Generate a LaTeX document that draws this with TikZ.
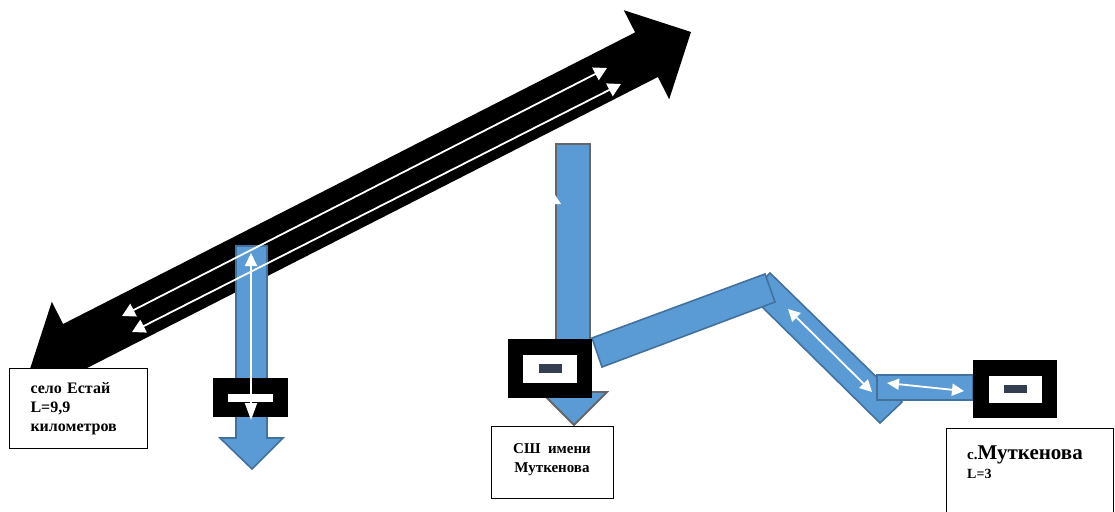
\documentclass[tikz,border=0pt]{standalone}
\usepackage{fontspec}
\setmainfont{Liberation Serif}
\usepackage{tikz}
\usetikzlibrary{arrows.meta,positioning}
\definecolor{roadblue}{HTML}{5B9BD5}
\definecolor{roadedge}{HTML}{41719C}
\definecolor{shaftgray}{HTML}{666666}
\definecolor{doorslate}{HTML}{333F50}
\tikzset{
  roadshape/.style={
    fill=roadblue,
    draw=roadedge,
    line width=1.6pt,
    line join=miter
  },
  labelbox/.style={
    draw=black,
    line width=1pt,
    fill=white,
    font=\bfseries,
    inner sep=0pt
  },
  blockbox/.style={fill=black, inner sep=0pt},
  windowbox/.style={fill=white, inner sep=0pt},
  doorbar/.style={fill=doorslate, inner sep=0pt, minimum width=23pt, minimum height=9pt},
  lanearrow/.style={
    draw=white,
    line width=1.8pt,
    {Triangle[length=13pt,width=14pt]}-{Triangle[length=13pt,width=14pt]}
  }
}
\begin{document}
\begin{tikzpicture}[x=1pt,y=-1pt]
  \clip (0,0) rectangle (1115,511);
  \fill[white] (0,0) rectangle (1115,511);

  % main road to Estay
  \coordinate (esttip) at (30,369);
  \coordinate (fartip) at (691,32);
  \fill[black] (esttip) -- (51.8,301.8) -- (63.1,324.0) -- (635.1,32.4) -- (623.8,10.2)
    -- (fartip) -- (669.2,99.2) -- (657.9,77.0) -- (85.9,368.6) -- (97.2,390.8) -- cycle;

  % side road down to the left building
  \draw[roadshape] (236,246) -- (267,246) -- (267,438) -- (283,438) -- (252,469)
    -- (220,438) -- (236,438) -- cycle;

  % lanes
  \coordinate (laneAw) at (122,316);
  \coordinate (laneAe) at (607,68);
  \coordinate (laneBw) at (132,332);
  \coordinate (laneBe) at (621,84);
  \draw[lanearrow] (laneAw) -- (laneAe);
  \draw[lanearrow] (laneBw) -- (laneBe);

  \node[blockbox, minimum width=75pt, minimum height=39pt] (leftblock) at (250.5,397.5) {};
  \node[windowbox, minimum width=45pt, minimum height=8pt] (leftwin) at (leftblock) {};
  \coordinate (sidetop) at (251,253);
  \coordinate (sidebot) at (251,420);
  \draw[draw=white, line width=1.8pt, {Triangle[length=13pt,width=12pt]}-{Triangle[length=17pt,width=12pt]}] (sidetop) -- (sidebot);

  % road to the school
  \draw[fill=roadblue, draw=shaftgray, line width=1.8pt, line join=miter]
    (556,144) -- (590,144) -- (590,392) -- (607,392) -- (574,425) -- (541,392) -- (556,392) -- cycle;
  \fill[white] (553,192) -- (561,204) -- (553,204) -- cycle;

  % road to Mutkenova
  \draw[roadshape] (770,273) -- (902,402) -- (880,423) -- (749,294) -- cycle;
  \draw[roadshape] (592,338) -- (765,274) -- (775,302) -- (602,367) -- cycle;
  \draw[roadshape] (877,375) rectangle (973,400);
  \coordinate (bendN) at (788,309);
  \coordinate (bendS) at (872,392);
  \draw[draw=white, line width=1.8pt, {Triangle[length=12pt,width=12pt]}-{Triangle[length=12pt,width=12pt]}] (bendN) -- (bendS);
  \coordinate (endW) at (887,383);
  \coordinate (endE) at (964,391);
  \draw[draw=white, line width=1.8pt, {Triangle[length=12pt,width=11pt]}-{Triangle[length=12pt,width=12pt]}] (endW) -- (endE);

  % buildings
  \node[blockbox, minimum width=84pt, minimum height=59pt] (midblock) at (550,368.5) {};
  \node[windowbox, minimum width=54pt, minimum height=28pt] (midwin) at (midblock) {};
  \node[doorbar] (middoor) at (midblock) {};
  \node[blockbox, minimum width=84pt, minimum height=58pt] (rightblock) at (1015,389) {};
  \node[windowbox, minimum width=53pt, minimum height=27pt] (rightwin) at (rightblock) {};
  \node[doorbar, minimum height=8pt] (rightdoor) at (rightblock) {};

  % labels
  \node[labelbox, minimum width=138pt, minimum height=80pt, anchor=north west,
    align=left, text width=96pt, font=\bfseries\fontsize{16pt}{19pt}\selectfont]
    (estay) at (9,368) {село Естай\\L=9,9\\километров};
  \node[labelbox, minimum width=122pt, minimum height=72pt, align=center,
    font=\bfseries\fontsize{15pt}{19pt}\selectfont, below=28pt of midblock, xshift=2pt]
    (school) {СШ\ \ имени\\Муткенова\rule[-10pt]{0pt}{0pt}};
  \node[labelbox, minimum width=167pt, minimum height=100pt, anchor=north west]
    (mutbox) at (946,428) {};
  \node[anchor=base west, inner sep=0pt, font=\bfseries] (mutname) at (967,459)
    {\fontsize{15pt}{15pt}\selectfont с.\fontsize{21pt}{21pt}\selectfont Муткенова};
  \node[anchor=base west, inner sep=0pt, font=\bfseries\fontsize{14pt}{14pt}\selectfont]
    (mutlen) at ([yshift=-19pt]mutname.base west) {L=3};
\end{tikzpicture}
\end{document}
